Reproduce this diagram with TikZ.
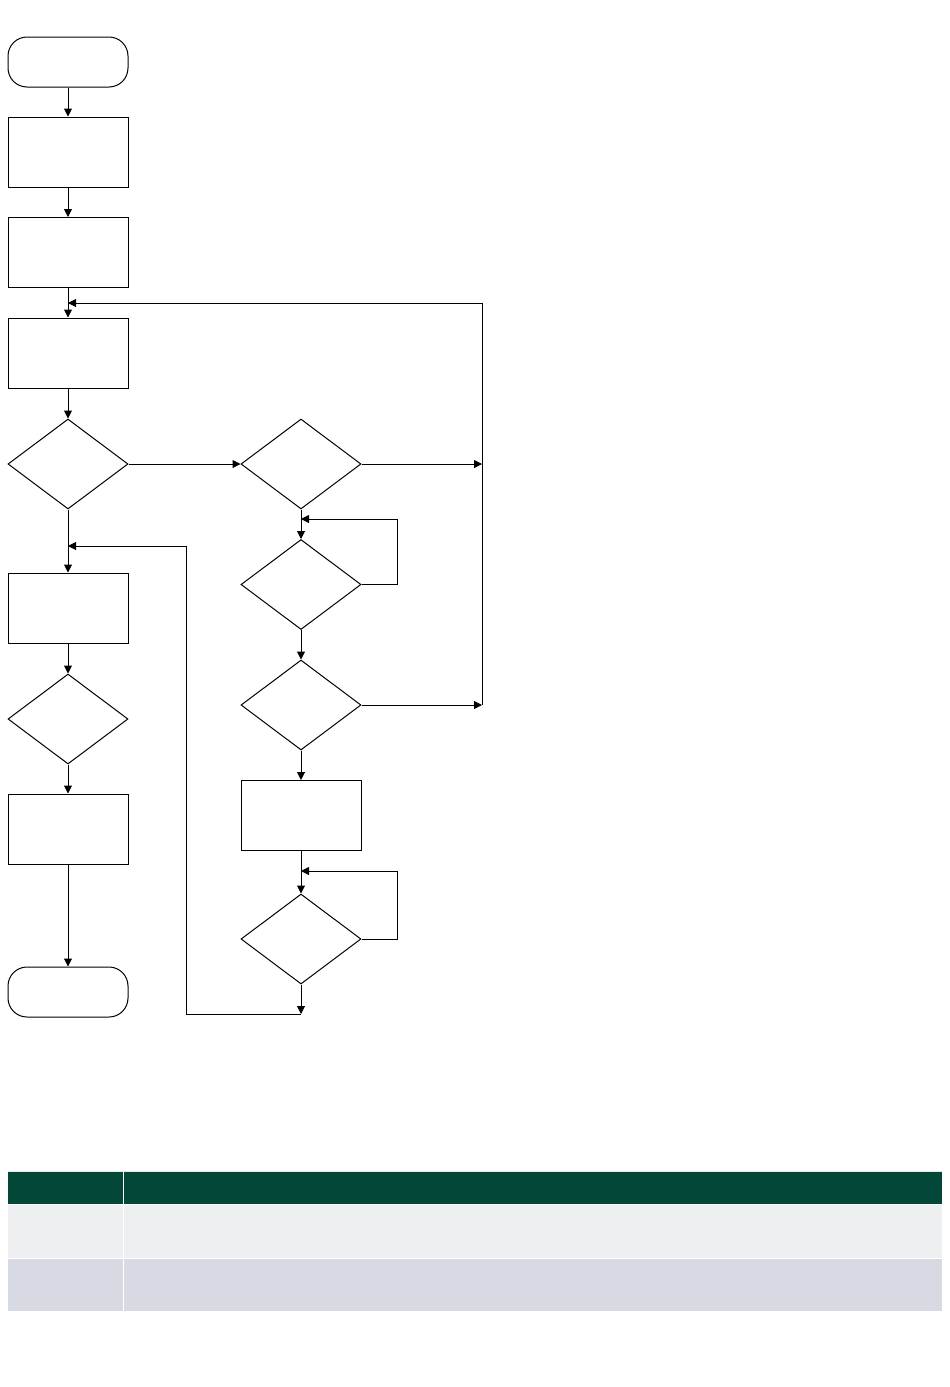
\documentclass[tikz,border=0pt]{standalone}
\usetikzlibrary{shapes.geometric, arrows.meta}
\definecolor{headgreen}{RGB}{3,71,56}
\definecolor{rowlight}{RGB}{238,239,241}
\definecolor{rowdark}{RGB}{215,218,226}
\begin{document}
\begin{tikzpicture}[x=1pt, y=-1pt, line width=1pt,
    box/.style={rectangle, draw, minimum width=120pt, minimum height=70pt, inner sep=0pt},
    term/.style={rectangle, draw, minimum width=120pt, minimum height=50pt, rounded corners=19pt, inner sep=0pt},
    decision/.style={diamond, draw, minimum width=120pt, minimum height=90pt, inner sep=0pt},
    flow/.style={-{Triangle[length=8pt,width=8pt]}}]
    \useasboundingbox (0,0) rectangle (950,1387);
    %flowchart, left column
    \node[term](start) at (68,62) {};
    \node[box](B1) at (68,152) {};
    \node[box](B2) at (68,252.5) {};
    \node[box](B3) at (68,353) {};
    \node[decision](D1) at (68,464) {};
    \node[box](B4) at (68,608) {};
    \node[decision](D3) at (68,719) {};
    \node[box](B5) at (68,829) {};
    \node[term](stop) at (68,992) {};
    %right column
    \node[decision](D2) at (301,464) {};
    \node[decision](D4) at (301,584.5) {};
    \node[decision](D5) at (301,705) {};
    \node[box](B6) at (301,815.5) {};
    \node[decision](D6) at (301,939) {};
    %junctions and corners
    \coordinate (J1) at (68,303);
    \coordinate (J2) at (68,546);
    \coordinate (J3) at (301,519);
    \coordinate (J4) at (301,871);
    \coordinate (R0) at (482,303);
    \coordinate (R1) at (482,464);
    \coordinate (R2) at (482,705);
    \coordinate (L1) at (397,519);
    \coordinate (L2) at (397,871);
    \coordinate (P) at (301,1014);
    \coordinate (C1) at (186,1014);
    \coordinate (C2) at (186,546);
    \draw[flow] (start) -- (B1);
    \draw[flow] (B1) -- (B2);
    \draw[flow] (B2) -- (B3);
    \draw[flow] (B3) -- (D1);
    \draw[flow] (D1) -- (B4);
    \draw[flow] (B4) -- (D3);
    \draw[flow] (D3) -- (B5);
    \draw[flow] (B5) -- (stop);
    \draw[flow] (D1) -- (D2);
    \draw[flow] (D2) -- (R1);
    \draw[flow] (D5) -- (R2);
    \draw[flow] (R2) -- (R0) -- (J1);
    \draw[flow] (D2) -- (D4);
    \draw[flow] (D4.east) -| (L1) -- (J3);
    \draw[flow] (D4) -- (D5);
    \draw[flow] (D5) -- (B6);
    \draw[flow] (B6) -- (D6);
    \draw[flow] (D6.east) -| (L2) -- (J4);
    \draw[flow] (D6) -- (P);
    \draw[flow] (P) -- (C1) -- (C2) -- (J2);
    %table
    \draw[line width=0.8pt, gray!20] (8,1171) -- (942,1171);
    \fill[headgreen] (8,1172) rectangle (942,1204);
    \fill[rowlight] (8,1205) rectangle (942,1258);
    \fill[rowdark] (8,1259) rectangle (942,1311);
    \draw[line width=0.8pt, white] (123,1172) -- (123,1311);
\end{tikzpicture}
\end{document}
